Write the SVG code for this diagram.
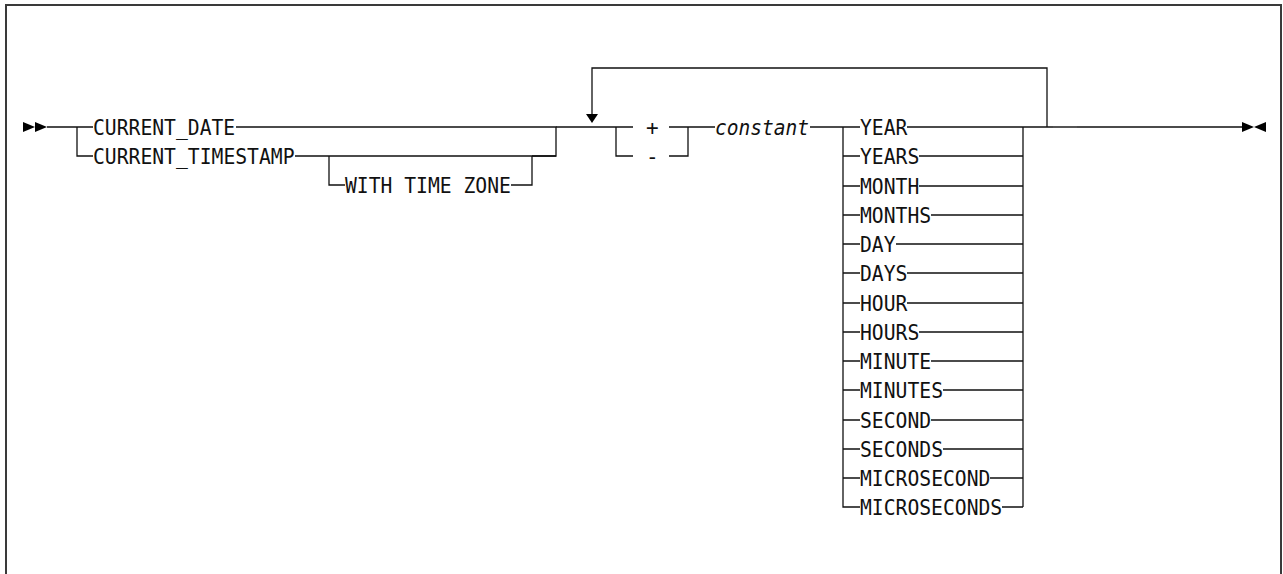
<svg xmlns="http://www.w3.org/2000/svg" width="1283" height="574" viewBox="0 0 1283 574">
<style>
.t{font-family:"DejaVu Sans Mono","Liberation Mono",monospace;font-size:21px;fill:#111}
.i{font-style:italic}
.ln{fill:none;stroke:#111;stroke-width:1.3}
.ar{fill:#000}
.fr{fill:none;stroke:#3a3a3a;stroke-width:2}
</style>
<rect width="1283" height="574" fill="#fff"/>
<path class="fr" d="M6,580 V5 H1281 V580"/>
<g id="connectors">
<path class="ln" d="M47,127 H93 M77,127 V156 H93"/>
<path class="ln" d="M236,127 H556 V156 H295"/>
<path class="ln" d="M556,156 H532 M329,156 V185 H345 M511,185 H532 V156"/>
<path class="ln" d="M556,127 H633 M633,127 H616 V156 H633"/>
<path class="ln" d="M669,127 H688 V156 H669 M688,127 H715"/>
<path class="ln" d="M810,127 H860"/>
<path class="ln" d="M843,127 V507 H860 M1023,127 V507"/>
<path class="ln" d="M1023,127 H1053 M1077,127 H1242"/>
<path d="M1053,127 H1077" stroke="#555" stroke-width="2"/>
<path class="ln" d="M1047,127 V68 H592 V115"/>
<polygon class="ar" points="586,114 598,114 592,123"/>
<polygon class="ar" points="23,122 35,127 23,132"/>
<polygon class="ar" points="35,122 47,127 35,132"/>
<polygon class="ar" points="1242,122 1254,127 1242,132"/>
<polygon class="ar" points="1266,122 1254,127 1266,132"/>
<path class="ln" d="M843,156 H860 M843,186 H860 M843,215 H860 M843,244 H860 M843,273 H860 M843,303 H860 M843,332 H860 M843,361 H860 M843,390 H860 M843,420 H860 M843,449 H860 M843,478 H860"/>
<path class="ln" d="M907,127 H1023 M919,156 H1023 M919,186 H1023 M931,215 H1023 M896,244 H1023 M907,273 H1023 M907,303 H1023 M919,332 H1023 M931,361 H1023 M943,390 H1023 M931,420 H1023 M943,449 H1023 M990,478 H1023 M1002,507 H1023"/>
</g>
<g id="n-current-date"><text class="t" x="93" y="135" textLength="142.2" lengthAdjust="spacingAndGlyphs">CURRENT_DATE</text></g>
<g id="n-current-timestamp"><text class="t" x="93" y="164" textLength="201.5" lengthAdjust="spacingAndGlyphs">CURRENT_TIMESTAMP</text></g>
<g id="n-with-time-zone"><text class="t" x="345" y="193" textLength="165.9" lengthAdjust="spacingAndGlyphs">WITH TIME ZONE</text></g>
<g id="n-plus"><text class="t" x="646" y="135">+</text></g>
<g id="n-minus"><text class="t" x="646" y="164">-</text></g>
<g id="n-constant"><text class="t i" x="715" y="135" textLength="94" lengthAdjust="spacingAndGlyphs">constant</text></g>
<g id="n-year"><text class="t" x="860" y="135" textLength="47.4" lengthAdjust="spacingAndGlyphs">YEAR</text></g>
<g id="n-years"><text class="t" x="860" y="164" textLength="59.3" lengthAdjust="spacingAndGlyphs">YEARS</text></g>
<g id="n-month"><text class="t" x="860" y="194" textLength="59.3" lengthAdjust="spacingAndGlyphs">MONTH</text></g>
<g id="n-months"><text class="t" x="860" y="223" textLength="71.1" lengthAdjust="spacingAndGlyphs">MONTHS</text></g>
<g id="n-day"><text class="t" x="860" y="252" textLength="35.6" lengthAdjust="spacingAndGlyphs">DAY</text></g>
<g id="n-days"><text class="t" x="860" y="281" textLength="47.4" lengthAdjust="spacingAndGlyphs">DAYS</text></g>
<g id="n-hour"><text class="t" x="860" y="311" textLength="47.4" lengthAdjust="spacingAndGlyphs">HOUR</text></g>
<g id="n-hours"><text class="t" x="860" y="340" textLength="59.3" lengthAdjust="spacingAndGlyphs">HOURS</text></g>
<g id="n-minute"><text class="t" x="860" y="369" textLength="71.1" lengthAdjust="spacingAndGlyphs">MINUTE</text></g>
<g id="n-minutes"><text class="t" x="860" y="398" textLength="83" lengthAdjust="spacingAndGlyphs">MINUTES</text></g>
<g id="n-second"><text class="t" x="860" y="428" textLength="71.1" lengthAdjust="spacingAndGlyphs">SECOND</text></g>
<g id="n-seconds"><text class="t" x="860" y="457" textLength="83" lengthAdjust="spacingAndGlyphs">SECONDS</text></g>
<g id="n-microsecond"><text class="t" x="860" y="486" textLength="130.4" lengthAdjust="spacingAndGlyphs">MICROSECOND</text></g>
<g id="n-microseconds"><text class="t" x="860" y="515" textLength="142.2" lengthAdjust="spacingAndGlyphs">MICROSECONDS</text></g>
</svg>
